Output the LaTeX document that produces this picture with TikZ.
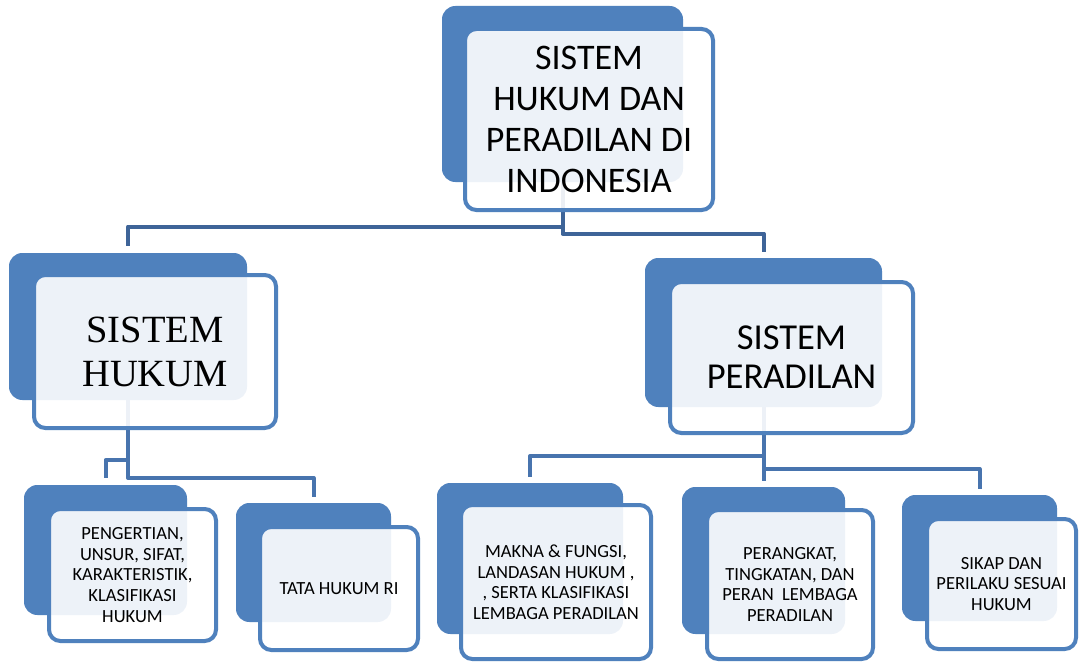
\documentclass[tikz,border=0pt]{standalone}
\usepackage{fontspec}
\setmainfont{Carlito}
\newfontfamily\cambria{Liberation Serif}
\usetikzlibrary{calc}
\pgfdeclarelayer{bg}
\pgfsetlayers{bg,main}
\definecolor{boxblue}{RGB}{79,129,189}
\definecolor{lineA}{RGB}{62,100,152}
\definecolor{lineB}{RGB}{72,116,174}
\tikzset{
  backbox/.style={rectangle, rounded corners=10pt, fill=boxblue, inner sep=0pt, outer sep=0pt},
  frontbox/.style={rectangle, rounded corners=8.5pt, draw=boxblue, line width=3pt, fill=white,
    fill opacity=0.9, text opacity=1, text=black, inner sep=0pt, align=center},
  conA/.style={draw=lineA, line width=3pt, line join=round},
  conB/.style={draw=lineB, line width=3pt, line join=round},
}
\newcommand{\backbx}[5]{\node[backbox, minimum width={(#4-#2)*0.75pt}, minimum height={(#5-#3)*0.75pt}] (#1) at ({(#2+#4)/2},{(#3+#5)/2}) {};}
\newcommand{\frontbx}[7]{\node[frontbox, minimum width={(#4-#2-4)*0.75pt}, minimum height={(#5-#3-4)*0.75pt}, font={#6}] (#1) at ({(#2+#4)/2},{(#3+#5)/2}) {#7};}
\begin{document}
\begin{tikzpicture}[x=0.75pt, y=-0.75pt]
\useasboundingbox (0,0) rectangle (1080,663);

% root
\backbx{rootb}{442}{6}{683}{182}
\frontbx{root}{463}{27}{715}{212}{\fontsize{27}{30.75}\selectfont}{SISTEM\\HUKUM DAN\\PERADILAN DI\\INDONESIA}

% level 1
\backbx{hukumb}{9}{253}{247}{400}
\frontbx{hukum}{32}{273}{278}{430}{\cambria\fontsize{28.9}{33}\selectfont}{SISTEM\\HUKUM}

\backbx{peradilanb}{645}{258}{882}{407}
\frontbx{peradilan}{668}{280}{915}{435}{\fontsize{27.4}{29.25}\selectfont}{SISTEM\\PERADILAN}

% level 2
\backbx{pengertianb}{24}{485}{187}{615}
\frontbx{pengertian}{47}{507}{218}{643}{\fontsize{13.9}{15.4}\selectfont}{PENGERTIAN,\\UNSUR, SIFAT,\\KARAKTERISTIK,\\KLASIFIKASI\\HUKUM}

\backbx{tatab}{236}{503}{391}{622}
\frontbx{tata}{258}{525}{420}{652}{\fontsize{13.9}{15.4}\selectfont}{TATA HUKUM RI}

\backbx{maknab}{437}{483}{623}{634}
\frontbx{makna}{459}{503}{653}{661}{\fontsize{13.9}{15.4}\selectfont}{MAKNA \& FUNGSI,\\LANDASAN HUKUM ,\\, SERTA KLASIFIKASI\\LEMBAGA PERADILAN}

\backbx{perangkatb}{682}{487}{845}{634}
\frontbx{perangkat}{705}{508}{875}{661}{\fontsize{13.9}{15.4}\selectfont}{PERANGKAT,\\TINGKATAN, DAN\\PERAN\ \ LEMBAGA\\PERADILAN}

\backbx{sikapb}{902}{495}{1057}{621}
\frontbx{sikap}{925}{517}{1078}{651}{\fontsize{13.9}{15.4}\selectfont}{SIKAP DAN\\PERILAKU SESUAI\\HUKUM}

\begin{pgfonlayer}{bg}
\fill[white] (0,0) rectangle (1080,663);
\draw[conA] (rootb.center) -- ++(0,132.5) -| ([yshift=5pt]hukumb.north);
\draw[conA] (rootb.center) -- ++(0,139.5) -| ([yshift=4.5pt]peradilanb.north);
\draw[conB] (hukumb.center) -- ++(0,151.5) -| ([yshift=4.5pt]tatab.north);
\draw[conB] (hukumb.center) -- ++(0,133.5) -| ([yshift=5pt]pengertianb.north);
\draw[conB] (peradilanb.center) -- ++(0,123.5) -| ([yshift=4.5pt]maknab.north);
\draw[conB] (peradilanb.center) -- ([yshift=4.5pt]perangkatb.north);
\draw[conB] (peradilanb.center) -- ++(0,136.5) -| ([yshift=4.5pt]sikapb.north);
\end{pgfonlayer}
\end{tikzpicture}
\end{document}
